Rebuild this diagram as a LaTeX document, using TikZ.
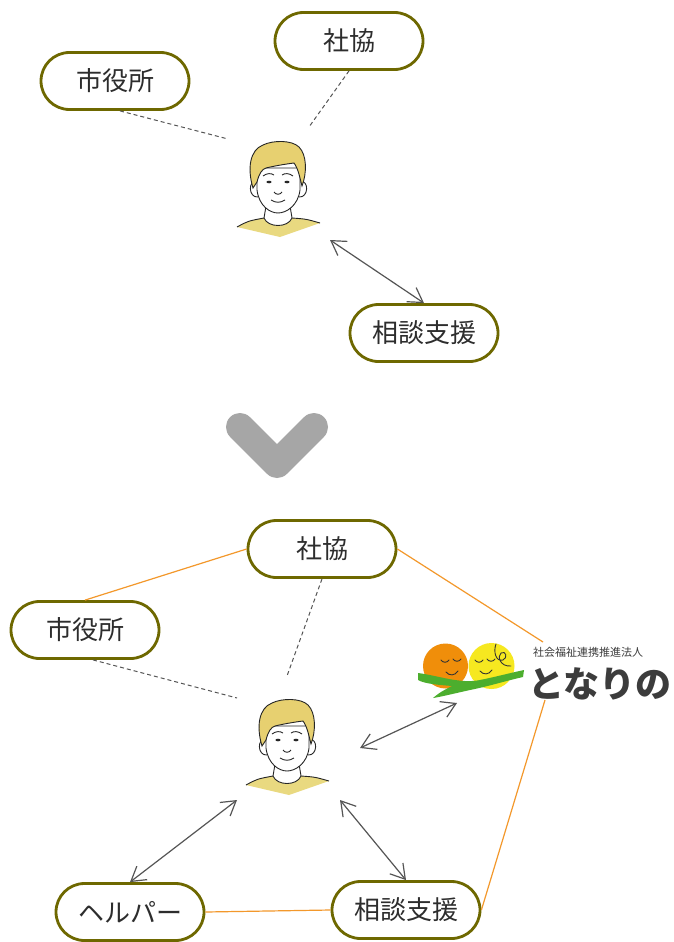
\documentclass[tikz,border=0pt]{standalone}
\usepackage{fontspec}
\newfontfamily\jp{Noto Sans CJK JP}
\usetikzlibrary{shapes.misc,arrows.meta}

\definecolor{pillline}{RGB}{110,104,0}
\definecolor{labeltext}{RGB}{45,45,45}
\definecolor{orangeline}{RGB}{243,152,43}
\definecolor{linkgray}{RGB}{85,85,85}
\definecolor{chevrongray}{RGB}{166,166,166}
\definecolor{hair}{RGB}{231,208,112}
\definecolor{shirt}{RGB}{233,217,128}
\definecolor{logoorange}{RGB}{240,142,10}
\definecolor{logoyellow}{RGB}{246,232,32}
\definecolor{logogreen}{RGB}{76,174,46}
\definecolor{logotext}{RGB}{60,60,60}

\tikzset{
  pill/.style={rounded rectangle, draw=pillline, line width=2.8pt, fill=white,
    minimum width=148pt, minimum height=57pt, inner sep=0pt,
    font=\jp\fontsize{26}{26}\selectfont, text=labeltext},
  link/.style={draw=linkgray, line width=1.2pt,
    {Straight Barb[length=14pt,width=17pt]}-{Straight Barb[length=14pt,width=17pt]}},
  dashlink/.style={draw=linkgray, line width=1pt, dash pattern=on 4pt off 3pt},
  tie/.style={draw=orangeline, line width=1.2pt},
  face line/.style={draw=black!85, line width=0.9pt},
  person/.pic={
    % shirt
    \fill[shirt] (-41,49) .. controls (-30,43) .. (-14,40)
      .. controls (-10,50) and (10,50) .. (14,40)
      .. controls (28,41) .. (42,45) -- (2,59) -- cycle;
    \draw[face line] (-41,49) .. controls (-30,43) .. (-14,40);
    \draw[face line] (14,40) .. controls (28,41) .. (42,45);
    % neck and collar
    \filldraw[fill=white, face line] (-12,28) -- (-14,40)
      .. controls (-10,50) and (10,50) .. (14,40) -- (12,28) -- cycle;
    % ears
    \filldraw[fill=white, face line] (-21,4) .. controls (-30,1) and (-30,20) .. (-20,19);
    \filldraw[fill=white, face line] (22,4) .. controls (31,1) and (31,20) .. (21,19);
    % face
    \filldraw[fill=white, face line] (-21,-10) -- (-21,12)
      .. controls (-19,28) and (-8,35) .. (0,35)
      .. controls (8,35) and (20,28) .. (22,12) -- (22,-10) -- cycle;
    % hair
    \filldraw[fill=hair, face line] (-25,10) .. controls (-31,-10) and (-28,-28) .. (-15,-33)
      .. controls (-5,-38) and (14,-38) .. (21,-31)
      .. controls (29,-23) and (29,-5) .. (24,8)
      .. controls (22,0) and (20,-10) .. (16,-15)
      .. controls (8,-14) and (-4,-12) .. (-12,-10)
      .. controls (-16,-9) and (-19,-4) .. (-21,4) -- cycle;
    % brows
    \draw[face line] (-15,-2) .. controls (-11,-5) and (-7,-5) .. (-4,-3);
    \draw[face line] (4,-3) .. controls (7,-5) and (11,-5) .. (15,-2);
    % eyes
    \fill[black!85] (-9,4) ellipse (2.6 and 1.3);
    \fill[black!85] (9,4) ellipse (2.6 and 1.3);
    % nose and mouth
    \draw[face line] (-4,14) .. controls (-2,17) and (2,17) .. (4,14);
    \draw[face line] (-7,22) .. controls (-2,25) and (2,25) .. (7,22);
  }
}

\begin{document}
\begin{tikzpicture}[x=1pt,y=-1pt]
  \useasboundingbox (0,0) rectangle (673,942);
  \fill[white] (0,0) rectangle (673,942);

  % ---------- before ----------
  \pic at (278,178) {person};
  \coordinate (p1a) at (228,139);
  \coordinate (p1b) at (309,127);
  \coordinate (p1c) at (330,240);

  \node[pill] (shiyaku1) at (115,81) {市役所};
  \node[pill] (shikyo1) at (349,41) {社協};
  \node[pill] (soudan1) at (424,333) {相談支援};

  \draw[dashlink] ([xshift=5pt]shiyaku1.south) -- (p1a);
  \draw[dashlink] (shikyo1.south) -- (p1b);
  \draw[link] (p1c) -- (soudan1.north);

  % ---------- transition mark ----------
  \draw[chevrongray, line width=28pt, line cap=round, line join=round]
    (240,427) -- (277,464) -- (314,427);

  % ---------- after ----------
  \pic at (287,736) {person};
  \coordinate (p2a) at (237,698);
  \coordinate (p2b) at (287,676);
  \coordinate (p2c) at (360,748);
  \coordinate (p2d) at (237,800);
  \coordinate (p2e) at (340,800);

  % logo of the corporation
  \fill[logoorange] (445.5,666) circle (22.5);
  \fill[logoyellow] (491.5,666) circle (23);
  \fill[logogreen] (418,673) .. controls (440,676) and (460,684) .. (480,680)
    .. controls (495,677) and (510,673) .. (524,670) -- (523,677)
    .. controls (505,681) and (490,686) .. (470,690)
    .. controls (452,694) and (440,697) .. (433,698)
    .. controls (440,692) and (446,689) .. (452,686)
    .. controls (440,685) and (425,684) .. (418,680) -- cycle;
  \begin{scope}[draw=black!80, line width=0.9pt, line cap=round]
    \draw (441,660) .. controls (443,663) and (447,663) .. (449,660);
    \draw (453,659) .. controls (455,662) and (459,662) .. (461,659);
    \draw (446,672) .. controls (449,676) and (455,676) .. (458,671);
    \draw (475,660) .. controls (477,663) and (481,663) .. (483,660);
    \draw (487,659) .. controls (489,662) and (493,662) .. (495,659);
    \draw (480,671) .. controls (483,675) and (489,675) .. (492,670);
    \draw (496,644) .. controls (493,652) and (496,662) .. (503,660)
      .. controls (508,658) and (506,650) .. (501,653)
      .. controls (497,656) and (500,667) .. (511,666);
  \end{scope}
  \node[font=\jp\fontsize{11}{11}\selectfont, text=logotext, inner sep=0pt]
    (logocap) at (588,652) {社会福祉連携推進法人};
  \node[font=\jp\bfseries\fontsize{36}{36}\selectfont, text=logotext, inner sep=0pt]
    (logoname) at (600,684) {となりの};
  \coordinate (logoN) at (543,642);
  \coordinate (logoS) at (545,700);
  \coordinate (logoA) at (457,703);

  \node[pill] (shikyo2) at (322,549) {社協};
  \node[pill] (shiyaku2) at (85,630) {市役所};
  \node[pill] (helper) at (130,912) {ヘルパー};
  \node[pill] (soudan2) at (406,910) {相談支援};

  \draw[tie] (shikyo2.west) -- (shiyaku2.north);
  \draw[tie] (shikyo2.east) -- (logoN);
  \draw[tie] (logoS) -- (soudan2.east);
  \draw[tie] (helper.east) -- (soudan2.west);

  \draw[dashlink] ([xshift=8pt]shiyaku2.south) -- (p2a);
  \draw[dashlink] (shikyo2.south) -- (p2b);
  \draw[link] (p2c) -- (logoA);
  \draw[link] (p2d) -- (helper.north);
  \draw[link] (p2e) -- (soudan2.north);
\end{tikzpicture}
\end{document}
